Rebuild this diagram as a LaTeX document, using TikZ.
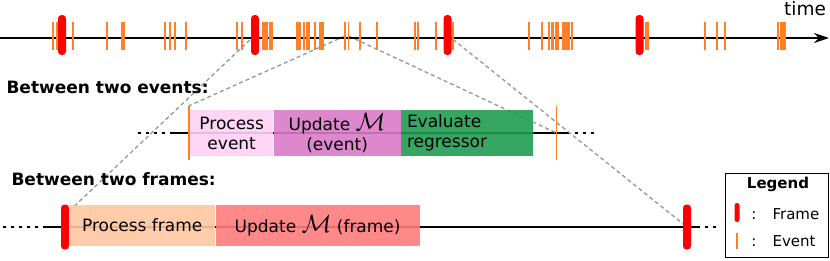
\documentclass[tikz,border=0pt]{standalone}
\usepackage{fontspec}
\setmainfont{DejaVu Sans}
\usetikzlibrary{arrows.meta,positioning,backgrounds}
\definecolor{evtorange}{RGB}{255,127,42}
\definecolor{framered}{RGB}{255,0,0}
\definecolor{lightpink}{RGB}{255,208,244}
\definecolor{mutedmagenta}{RGB}{217,123,198}
\definecolor{mutedgreen}{RGB}{33,156,81}
\definecolor{peach}{RGB}{255,198,161}
\definecolor{salmon}{RGB}{255,123,123}
\definecolor{zoomgray}{RGB}{150,150,150}

\begin{document}
\begin{tikzpicture}[x=1pt,y=-1pt,font=\fontsize{17}{20}\selectfont,
 framemark/.style={fill=framered,rounded corners=3.5pt,minimum width=8pt,minimum height=40pt,inner sep=0pt},
 evmark/.style={fill=evtorange,minimum width=1.8pt,minimum height=28pt,inner sep=0pt},
 stage/.style={inner sep=0pt,minimum height=46pt,align=center,fill opacity=0.9,text opacity=1},
 zoomline/.style={draw=zoomgray,line width=1.3pt,dash pattern=on 4pt off 3pt},
 tl/.style={line width=1.5pt},
 dots/.style={line width=1.5pt,dash pattern=on 3pt off 5pt}]
\useasboundingbox (0,0) rectangle (830,260);
\coordinate (t0) at (0,38);
\coordinate (t1) at (829,38);
\draw[line width=2pt,-{Stealth[length=15pt,width=10pt,inset=5pt]}] (t0) -- (t1);
\node[anchor=base,font=\fontsize{18.5}{22}\selectfont] (time) at (805,15) {time};
\foreach \x in {53.3,56.7,73.3,106.7,121.7,124,165,170,175,185.7,236.7,241.7,262.7,265,267.3,270,272.3,296.7,298.3,300,304,307.3,309.3,315,320,321.7,323.3,360,376.7,415,418.3,436,453.3,529.3,542,549.3,551.7,553.3,556,558.3,562.7,565,566.7,569.3,571.7,646,648.3,705,717.3,725,778.3,780.7,782.7,785}
 \node[evmark] at (\x,36) {};
\node[evmark] (e1) at (345,36) {};
\node[evmark] (e2) at (348.5,36) {};
\foreach \x/\n in {62/f1,255/f2,447.5/f3,639.5/f4} \node[framemark] (\n) at (\x,35) {};
\node[anchor=base west,font=\bfseries\fontsize{17}{20}\selectfont] (evlabel) at (3,93) {Between two events:};
\node[anchor=base west,font=\bfseries\fontsize{17}{20}\selectfont] (frlabel) at (8,185) {Between two frames:};
\node[stage,anchor=west,fill=lightpink,minimum width=83pt] (procev) at (190,133) {Process\\event};
\node[stage,fill=mutedmagenta,minimum width=127pt,right=0pt of procev] (updev) {Update {\fontsize{23}{20}\selectfont$\mathcal{M}$}\\(event)};
\node[stage,fill=mutedgreen,minimum width=132pt,text width=120pt,align=left,right=0pt of updev] (evreg) {Evaluate\\regressor};
\node[evmark,minimum height=54pt] (evl) at (189,133) {};
\node[evmark,minimum height=54pt] (evr) at (556.5,133) {};
\node[framemark,minimum height=45pt] (fb1) at (65,227) {};
\node[stage,anchor=west,fill=peach,minimum width=146pt,minimum height=41pt] (procfr) at (69,225.5) {Process frame};
\node[stage,fill=salmon,minimum width=204pt,minimum height=41pt,right=0pt of procfr] (updfr) {Update {\fontsize{23}{20}\selectfont$\mathcal{M}$} (frame)};
\node[framemark,minimum height=45pt] (fb2) at (687,227) {};
\node[draw,line width=1.5pt,minimum width=103pt,minimum height=84pt,inner sep=0pt] (legend) at (777,215.5) {};
\node[anchor=base,font=\bfseries\fontsize{15}{18}\selectfont] (legtitle) at (778,188) {Legend};
\node[framemark,minimum width=5pt,minimum height=19pt,rounded corners=2.5pt] (legframe) at (737,212.5) {};
\node[evmark,minimum width=1.2pt,minimum height=16pt] (legevent) at (737,241) {};
\node[anchor=base,font=\fontsize{15}{18}\selectfont] (colfr) at (754,219) {:};
\node[anchor=base,font=\fontsize{15}{18}\selectfont] (colev) at (754,246) {:};
\node[anchor=base west,font=\fontsize{15}{18}\selectfont] (legfr) at (769,219) {Frame};
\node[anchor=base west,font=\fontsize{15}{18}\selectfont] (legev) at (769,246) {Event};
\begin{scope}[on background layer]
\draw[tl] ([xshift=-19pt]evl.center) -- ([xshift=10pt]evr.center);
\draw[dots] ([xshift=-51pt]evl.center) -- ([xshift=-19pt]evl.center);
\draw[dots] ([xshift=10pt]evr.center) -- ([xshift=37pt]evr.center);
\draw[tl] ([xshift=-20pt]fb1.center) -- ([xshift=10pt]fb2.center);
\draw[dots] ([xshift=-62pt]fb1.center) -- ([xshift=-20pt]fb1.center);
\draw[dots] ([xshift=10pt]fb2.center) -- ([xshift=33pt]fb2.center);
\draw[zoomline] (f2.center) -- ([yshift=12pt]fb1.center);
\draw[zoomline] (f3.center) -- (fb2.center);
\draw[zoomline] (e1.center) -- (evl.north);
\draw[zoomline] (e2.center) -- (evr.center);
\end{scope}
\end{tikzpicture}
\end{document}
